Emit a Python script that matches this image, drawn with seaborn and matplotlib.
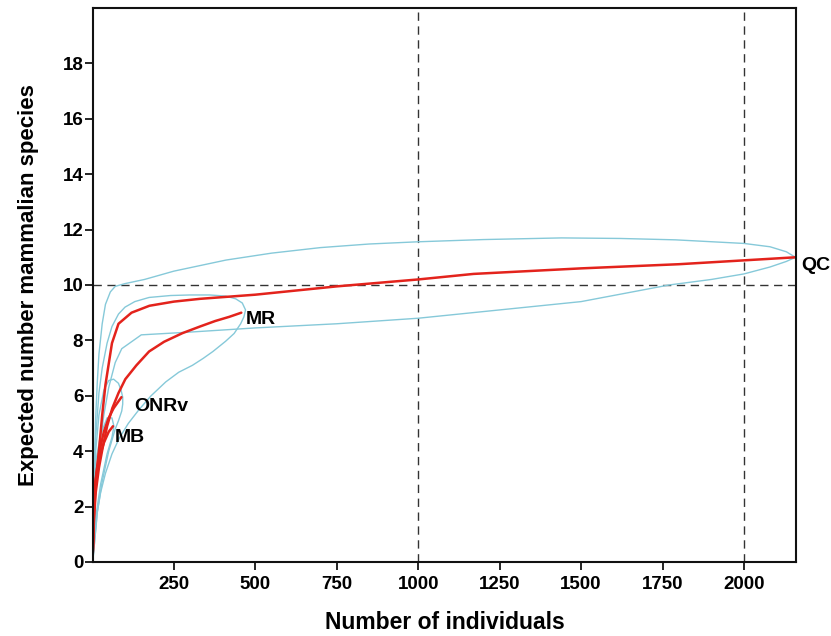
import pandas as pd
import matplotlib.pyplot as plt
import seaborn as sns

# Rarefaction curves (mean) per site
qc_x = [1, 5, 10, 20, 30, 40, 60, 80, 120, 175, 250, 330, 500, 750, 1000, 1170, 1500, 1800, 2158]
qc_y = [0.3, 1.8, 2.9, 4.0, 5.3, 6.4, 7.9, 8.6, 9.0, 9.25, 9.4, 9.5, 9.65, 9.95, 10.2, 10.4, 10.6, 10.75, 11.0]
mr_x = [1, 5, 10, 20, 31, 45, 61, 80, 101, 135, 174, 220, 276, 330, 377, 420, 457]
mr_y = [0.3, 1.6, 2.5, 3.4, 4.1, 4.9, 5.55, 6.1, 6.6, 7.1, 7.6, 7.95, 8.26, 8.5, 8.7, 8.85, 9.0]
onrv_x = [1, 5, 10, 20, 35, 50, 65, 80, 89]
onrv_y = [0.3, 2.0, 3.0, 3.9, 4.7, 5.2, 5.55, 5.8, 5.95]
mb_x = [1, 5, 10, 20, 35, 50, 63]
mb_y = [0.3, 2.0, 2.9, 3.7, 4.3, 4.7, 4.9]

# Confidence envelopes, traced as closed outlines (upper then lower)
qc_env_x = [1, 5, 10, 15, 20, 30, 40, 55, 70, 100, 160, 250, 410, 550, 700, 850, 1000, 1200, 1440, 1620, 1790,
            2000, 2080, 2130, 2158, 2130, 2080, 2000, 1900, 1770, 1500, 1250, 1000, 750, 500, 300, 150, 90,
            70, 50, 35, 20, 8, 1]
qc_env_y = [0.6, 3.0, 5.2, 6.5, 7.5, 8.6, 9.3, 9.75, 9.95, 10.05, 10.2, 10.5, 10.9, 11.15, 11.35, 11.48, 11.56,
            11.64, 11.7, 11.68, 11.63, 11.5, 11.38, 11.2, 11.0, 10.85, 10.65, 10.4, 10.2, 10.0, 9.4, 9.1,
            8.8, 8.6, 8.45, 8.3, 8.2, 7.7, 7.2, 6.3, 5.3, 4.0, 2.0, 0.0]
mr_env_x = [1, 5, 10, 20, 30, 45, 60, 80, 100, 130, 174, 240, 300, 360, 409, 440, 460, 470, 465, 455,
            435, 409, 370, 340, 307, 265, 225, 180, 143, 110, 82, 60, 40, 25, 15, 1]
mr_env_y = [0.5, 2.8, 4.5, 6.1, 7.0, 7.9, 8.5, 8.95, 9.2, 9.4, 9.55, 9.62, 9.64, 9.64, 9.6, 9.5, 9.35,
            9.1, 8.85, 8.6, 8.25, 7.97, 7.6, 7.35, 7.1, 6.85, 6.5, 6.0, 5.5, 5.0, 4.46, 3.9, 3.2, 2.5, 1.8, 0.0]
onrv_env_x = [1, 5, 10, 20, 35, 50, 65, 80, 88, 93, 93, 90, 80, 70, 50, 30, 15, 1]
onrv_env_y = [0.6, 2.6, 4.0, 5.3, 6.2, 6.55, 6.6, 6.45, 6.2, 5.95, 5.7, 5.45, 5.1, 4.8, 4.0, 2.9, 1.8, 0.0]
mb_env_x = [1, 5, 10, 25, 45, 60, 66, 60, 45, 25, 10, 1]
mb_env_y = [0.6, 2.4, 3.6, 4.6, 5.2, 5.2, 4.9, 4.5, 3.9, 2.8, 1.6, 0.0]

sites = ["QC", "MR", "ONRv", "MB"]
label_pos = {"QC": (2175, 10.7), "MR": (472, 8.75), "ONRv": (128, 5.6), "MB": (70, 4.5)}

x_ticks = [250, 500, 750, 1000, 1250, 1500, 1750, 2000]
y_ticks = [0, 2, 4, 6, 8, 10, 12, 14, 16, 18]

sns.set_style("ticks")
plt.rcParams['font.family'] = ['Liberation Sans', 'DejaVu Sans']
plt.rcParams['font.weight'] = 'bold'
plt.rcParams['text.color'] = 'black'
plt.rcParams['axes.labelcolor'] = 'black'
plt.rcParams['xtick.color'] = 'black'
plt.rcParams['ytick.color'] = 'black'

fig = plt.figure(figsize=(8.31, 6.36), dpi=100)
ax = fig.add_axes([0.112, 0.1164, 0.846, 0.871])

env_color = "#86c9d9"
red = "#e3231c"

envs = [(qc_env_x, qc_env_y), (mr_env_x, mr_env_y), (onrv_env_x, onrv_env_y), (mb_env_x, mb_env_y)]
means = [(qc_x, qc_y), (mr_x, mr_y), (onrv_x, onrv_y), (mb_x, mb_y)]

for ex, ey in envs:
    env_df = pd.DataFrame({"x": ex, "y": ey})
    sns.lineplot(data=env_df, x="x", y="y", sort=False, estimator=None, color=env_color,
                 linewidth=1.0, ax=ax)

for (mx, my) in means:
    mean_df = pd.DataFrame({"x": mx, "y": my})
    sns.lineplot(data=mean_df, x="x", y="y", sort=False, estimator=None, color=red,
                 linewidth=1.8, ax=ax)

# reference lines
for xv in [1000, 2000]:
    ax.axvline(xv, color="#333333", linestyle=(0, (6, 4)), linewidth=1.0, zorder=0)
ax.axhline(10, color="#333333", linestyle=(0, (6, 4)), linewidth=1.0, zorder=0)

for s in sites:
    lx, ly = label_pos[s]
    ax.text(lx, ly, s, fontsize=14, fontweight="bold", ha="left", va="center", clip_on=False)

ax.set_xlim(2, 2160)
ax.set_ylim(0, 20)
ax.set_xticks(x_ticks)
ax.set_yticks(y_ticks)
ax.tick_params(axis="both", direction="out", length=6, width=1.2, labelsize=13.5)
ax.tick_params(axis="x", pad=4)
ax.tick_params(axis="y", pad=1)
for lab in ax.get_xticklabels() + ax.get_yticklabels():
    lab.set_fontweight("bold")
for sp in ax.spines.values():
    sp.set_visible(True)
    sp.set_linewidth(1.5)
    sp.set_color("#111111")

ax.set_xlabel("Number of individuals", fontsize=16.5, fontweight="bold", labelpad=13)
ax.set_ylabel("Expected number mammalian species", fontsize=16, fontweight="bold", labelpad=17)

fig.savefig("out.png", dpi=100)
